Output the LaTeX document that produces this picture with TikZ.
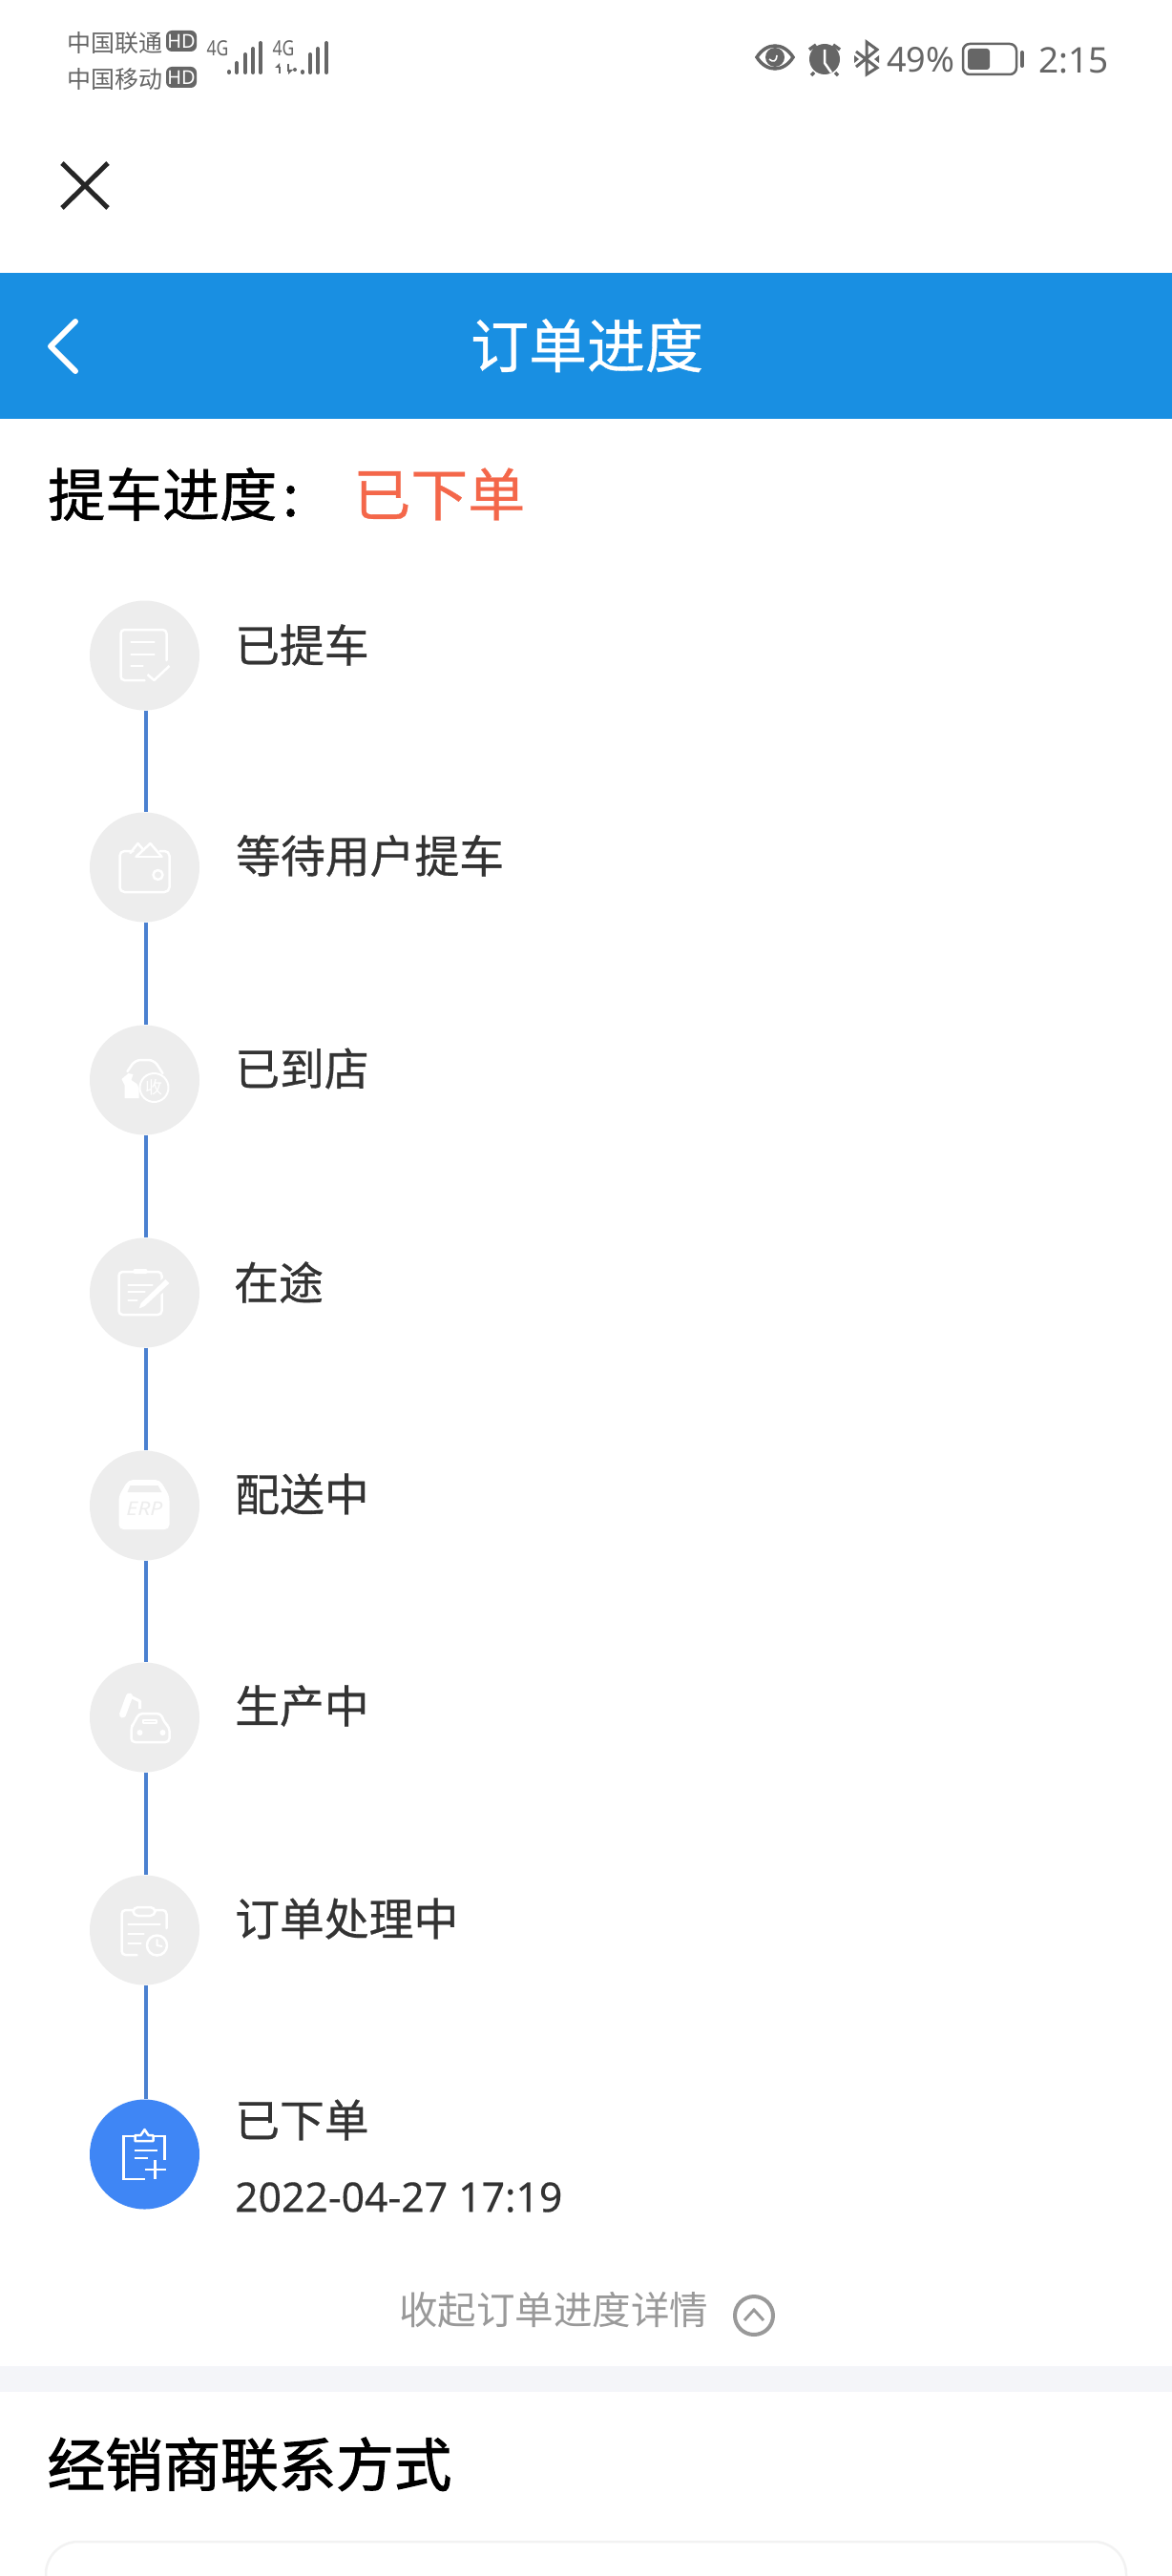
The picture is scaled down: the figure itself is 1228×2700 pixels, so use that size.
\documentclass[tikz,border=0pt]{standalone}
\usepackage{fontspec}
\setmainfont{Noto Sans CJK SC}
\newfontfamily\latinf{Noto Sans}
\newfontfamily\cnmed{Noto Sans CJK SC}[FakeBold=0.6]
\newfontfamily\cnsemi{Noto Sans CJK SC}[FakeBold=0.9]
\newfontfamily\cnhvy{Noto Sans CJK SC}[FakeBold=1.8]
\newfontfamily\datef{Noto Sans}[FakeBold=0.3]
\definecolor{hdr}{HTML}{198FE2}
\definecolor{sb}{HTML}{666666}
\definecolor{lab}{HTML}{333333}
\definecolor{grayc}{HTML}{EDEDED}
\definecolor{linec}{HTML}{4A80D0}
\definecolor{act}{HTML}{3F86F5}
\definecolor{redt}{HTML}{F4674A}
\definecolor{tip}{HTML}{999999}
\definecolor{band}{HTML}{F4F5F9}
\definecolor{cardl}{HTML}{F2F2F2}
\newcommand{\fs}[1]{\fontsize{#1pt}{#1pt}\selectfont}
\tikzset{
 x=1pt,y=-1pt,
 stepc/.style={circle,fill=grayc,minimum size=115pt,inner sep=0pt,draw=none},
 conn/.style={draw=linec,line width=3.2pt},
 lbl/.style={anchor=west,inner sep=0pt,text=lab,font=\cnmed\fs{46.8}},
 ico/.style={draw=white,line width=2.5pt,line join=round,line cap=round},
 sbt/.style={anchor=west,inner sep=0pt,text=sb,font=\fs{25}},
 hdb/.style={fill=sb,rounded corners=6pt,minimum width=32pt,minimum height=22pt,inner sep=0pt,text=white,font=\latinf\bfseries\fs{20}},
 gfour/.style={inner sep=0pt,text=sb,font=\latinf\bfseries\fs{22},xscale=.8},
 bar/.style={draw=sb,line width=4pt,line cap=round},
}
\begin{document}
\begin{tikzpicture}
\useasboundingbox (0,0) rectangle (1228,2700);
\fill[white] (0,0) rectangle (1228,2700);
% status bar
\node[sbt] (c1t) at (70,45) {中国联通};
\node[sbt] (c2t) at (70,83) {中国移动};
\node[hdb] (hd1) at (190,43) {HD};
\node[hdb] (hd2) at (190,81) {HD};
\node[gfour] (g1) at (228,51) {4G};
\node[gfour] (g2) at (297,51) {4G};
\foreach \x/\t in {240/75,248/66,257/57,265/51,273/45}{\draw[bar] (\x,76)--(\x,\t);}
\foreach \x/\t in {317/75,325/57,333/51,342/45}{\draw[bar] (\x,76)--(\x,\t);}
\fill[sb] (309,73) circle (2pt);
\draw[sb,line width=2pt] (293,70)--(293,77) (302,67)--(302,75);
\fill[sb] (288,71)--(293,66)--(293,71)--cycle (302,78)--(302,73)--(307,73)--cycle;
% eye
\draw[sb,line width=3.5pt] (793,60) .. controls (803,44) and (821,44) .. (831,60) .. controls (821,76) and (803,76) .. (793,60) -- cycle;
\fill[sb] (812,60) circle (10pt);
\draw[white,line width=1.6pt] (806,62) .. controls (810,66) and (814,64) .. (814,58);
% alarm
\fill[sb] (864,62) circle (16pt);
\draw[white,line width=2.5pt] (864,52)--(864,66)--(871,76);
\draw[sb,line width=3.5pt] (848,52)--(855,47) (880,52)--(873,47) (853,76)--(850,79) (875,76)--(878,79);
% bluetooth
\draw[sb,line width=3pt,line join=miter] (897,54)--(919,71)--(908,78)--(908,44)--(919,52)--(897,70);
\fill[sb] (895,58)--(900,62)--(895,66)--cycle (921,58)--(916,62)--(921,66)--cycle;
\node[anchor=west,inner sep=0pt,text=sb,font=\latinf\fs{36}] (pct) at (929,63) {49\%};
% battery
\draw[sb,line width=2.5pt,rounded corners=7pt] (1009,46) rectangle (1065,78);
\fill[sb,rounded corners=3pt] (1014,51) rectangle (1037,73);
\draw[sb,line width=4pt,line cap=round] (1071,55)--(1071,69);
\node[anchor=west,inner sep=0pt,text=sb,font=\latinf\fs{37}] (clock) at (1088,63) {2:15};
% close
\draw[black!85,line width=5pt] (65,171)--(113,218) (113,171)--(65,218);
% header
\fill[hdr] (0,286) rectangle (1228,439);
\draw[white,line width=6pt,line join=round,line cap=round] (79,337)--(53,363)--(79,389);
\node[inner sep=0pt,text=white,font=\cnmed\fs{61}] (title) at (615,362) {订单进度};
% status line
\node[anchor=west,inner sep=0pt,text=black,font=\cnsemi\fs{60}] (prog) at (50,518) {提车进度\kern6pt:};
\node[anchor=west,inner sep=0pt,text=redt,font=\cnmed\fs{60}] (state) at (370,518) {已下单};
% steps
\node[stepc] (s1) at (151.5,687) {};
\node[stepc] (s2) at (151.5,909) {};
\node[stepc] (s3) at (151.5,1132) {};
\node[stepc] (s4) at (151.5,1355) {};
\node[stepc] (s5) at (151.5,1578) {};
\node[stepc] (s6) at (151.5,1800) {};
\node[stepc] (s7) at (151.5,2023) {};
\node[stepc,fill=act] (s8) at (151.5,2258) {};
\foreach \a/\b in {s1/s2,s2/s3,s3/s4,s4/s5,s5/s6,s6/s7,s7/s8}{
 \draw[conn] ([xshift=1.5pt]\a.south) -- ([xshift=1.5pt]\b.north);}
\node[lbl] (l1) at (246,676) {已提车};
\node[lbl] (l2) at (247,897) {等待用户提车};
\node[lbl] (l3) at (246,1120) {已到店};
\node[lbl] (l4) at (245,1344) {在途};
\node[lbl] (l5) at (246,1566) {配送中};
\node[lbl] (l6) at (246,1788) {生产中};
\node[lbl] (l7) at (246,2011) {订单处理中};
\node[lbl] (l8) at (246,2222) {已下单};
\node[anchor=west,inner sep=0pt,text=lab,font=\datef\fs{42.7}] (date) at (246,2303) {2022-04-27 17:19};
% icon 1
\begin{scope}[shift={(s1.center)},x=1pt,y=-1pt]
\draw[ico,rounded corners=4pt] (23,5)--(23,-27)--(-25,-27)--(-25,26)--(0,26);
\draw[ico] (-14,-14)--(10,-14) (-14,-1)--(10,-1) (-14,11)--(-2,11);
\draw[ico,line cap=butt] (3,20)--(10,26)--(26,11);
\end{scope}
% icon 2
\begin{scope}[shift={(s2.center)},x=1pt,y=-1pt]
\draw[ico,rounded corners=5pt] (-12,-17)--(-26,-17)--(-26,26)--(26,26)--(26,-17)--(16,-17);
\draw[ico] (-15,-15)--(-7,-25)--(-1,-18);
\draw[ico] (-9,-11)--(6,-25)--(18,-11);
\draw[ico] (-9,-11)--(18,-11);
\draw[ico] (14,8) circle (5pt);
\end{scope}
% icon 3
\begin{scope}[shift={(s3.center)},x=1pt,y=-1pt]
\draw[ico,rounded corners=6pt] (-18,-9)--(-10,-21)--(10,-21)--(19,-7);
\fill[white] (-24,-1)--(-17,-7)--(-12,-6)--(-14,0)--(-8,4)--(-6,8)--(-6,19)--(-21,19)--(-21,5)--cycle;
\draw[ico,line width=2pt] (10,8) circle (15pt);
\node[inner sep=0pt,text=white,font=\fs{18}] (i3t) at (10,8) {收};
\end{scope}
% icon 4
\begin{scope}[shift={(s4.center)},x=1pt,y=-1pt]
\draw[ico,rounded corners=4pt] (-27,-22) rectangle (18,23);
\fill[white,rounded corners=2pt] (-12,-25) rectangle (3,-20);
\draw[ico] (-17,-8)--(8,-8) (-17,-1)--(0,-1) (-17,8)--(-8,8);
\fill[white,draw=grayc,line width=2.5pt] (22,-16)--(28,-10)--(1,15)--(-8,19)--(-5,10)--cycle;
\end{scope}
% icon 5
\begin{scope}[shift={(s5.center)},x=1pt,y=-1pt]
\fill[white,rounded corners=5pt] (-17,-27)--(16,-27)--(26,-10)--(26,25)--(-27,25)--(-27,-10)--cycle;
\fill[grayc] (-15,-21)--(14,-21)--(18,-14)--(-18,-14)--cycle;
\node[inner sep=0pt,text=grayc,font=\latinf\itshape\fs{20},xscale=1.15] (i5t) at (0,3) {ERP};
\end{scope}
% icon 6
\begin{scope}[shift={(s6.center)},x=1pt,y=-1pt]
\draw[white,line width=7pt,line cap=round] (-23,-3)--(-16,-22);
\draw[ico,line width=3pt,line cap=butt] (-15,-22)--(-5,-17)--(-5,-9);
\draw[ico,rounded corners=4pt] (-11,6)--(-6,-4)--(17,-4)--(21,6)--(26,10)--(26,26)--(-14,26)--(-14,10)--cycle;
\draw[ico,line width=2pt] (-2,3) rectangle (12,6);
\fill[white] (-5,16) circle (3pt) (19,16) circle (3pt);
\end{scope}
% icon 7
\begin{scope}[shift={(s7.center)},x=1pt,y=-1pt]
\draw[ico,rounded corners=4pt] (-8,26)--(-24,26)--(-24,-21)--(23,-21)--(23,-2);
\draw[ico,fill=grayc,rounded corners=5pt] (-12,-24) rectangle (11,-15);
\draw[ico] (-17,-6)--(16,-6) (-17,4)--(-1,4) (-17,14)--(-4,14);
\draw[ico,fill=grayc] (13,16) circle (10.5pt);
\draw[ico,line width=2pt] (13,10)--(13,16)--(18,17);
\end{scope}
% icon 8
\begin{scope}[shift={(s8.center)},x=1pt,y=-1pt]
\draw[ico,line cap=butt,line join=miter] (21,6)--(21,-19)--(-22,-19)--(-22,26)--(0,26);
\draw[ico,fill=act,line cap=butt] (-10,-14)--(-10,-20)--(-4,-20)--(0,-26)--(4,-20)--(9,-20)--(9,-14)--cycle;
\draw[ico,line cap=butt] (-11,-4)--(13,-4) (-11,4)--(3,4) (0,16)--(22,16) (11,6)--(11,26);
\end{scope}
% collapse
\node[anchor=west,inner sep=0pt,text=tip,font=\fs{40.5}] (fold) at (418,2421) {收起订单进度详情};
\node[circle,draw=tip,line width=4pt,minimum size=40pt,inner sep=0pt] (foldc) at (790,2427) {};
\draw[tip,line width=3pt] ([shift={(-10,5)}]foldc.center)--([shift={(0,-6)}]foldc.center)--([shift={(10,5)}]foldc.center);
% band
\fill[band] (0,2480) rectangle (1228,2507);
\node[anchor=west,inner sep=0pt,text=black,font=\cnhvy\fs{60.5}] (dealer) at (49.5,2583) {经销商联系方式};
% card
\draw[cardl,line width=2.5pt,rounded corners=34pt] (48,2740) -- (48,2664) -- (1180,2664) -- (1180,2740);
\end{tikzpicture}
\end{document}
